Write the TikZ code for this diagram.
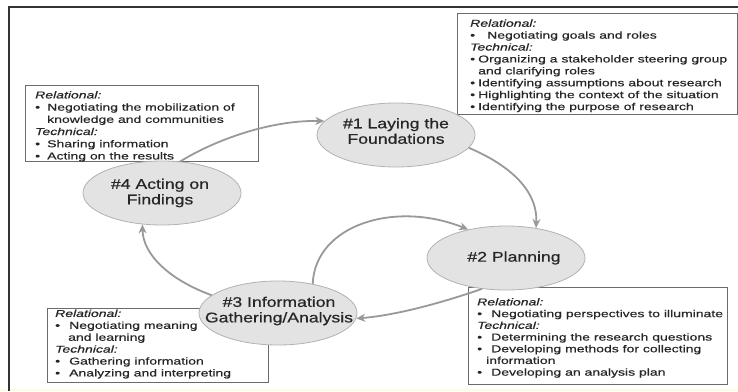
\documentclass[tikz,border=0pt]{standalone}
\usepackage{fontspec}
\setmainfont{Liberation Sans}[FakeStretch=1.4,FakeBold=0.4]
\newfontfamily\ellfont{Liberation Sans}[FakeStretch=1.26,FakeBold=0.6]
\usetikzlibrary{shapes.geometric,arrows.meta}
\definecolor{txt}{gray}{0.15}
\definecolor{ellfill}{gray}{0.89}
\definecolor{ellline}{gray}{0.70}
\definecolor{arrcol}{gray}{0.60}
\definecolor{boxline}{gray}{0.42}
\definecolor{frameline}{gray}{0.20}
\newcommand{\bA}{\makebox[8pt][l]{•}}
\newcommand{\bB}{\makebox[12pt][l]{•}}
\newcommand{\bC}{\makebox[14pt][l]{•}}
\tikzset{
  infobox/.style={draw=boxline, line width=0.6pt, fill=white, inner sep=0pt, anchor=north west},
  infotext/.style={text=txt, align=left, inner sep=0pt, anchor=north west},
  ell/.style={ellipse, draw=ellline, line width=0.8pt, fill=ellfill, inner sep=0pt,
              minimum width=158pt, minimum height=64pt},
  elltext/.style={text=txt, align=center, inner sep=0pt, font=\ellfont\fontsize{14}{15.5}\selectfont},
  arr/.style={draw=arrcol, line width=1.8pt, -{Stealth[length=9pt,width=8pt]}}
}
\begin{document}
\begin{tikzpicture}[x=1pt,y=-1pt]
\useasboundingbox (0,0) rectangle (738,391);
\fill[white] (0,0) rectangle (738,391);
\fill[yellow!15] (0,388.5) rectangle (738,391);
\draw[frameline, line width=2pt] (9,391) -- (9,7) -- (738,7);

% boxes
\node[infobox, minimum width=280pt, minimum height=101pt] (b1) at (457,13) {};
\node[infotext, font=\fontsize{10}{11.9}\selectfont] (t1) at (470,19.3) {%
\textit{Relational:}\\
\makebox[17pt][l]{•}Negotiating goals and roles\\
\textit{Technical:}\\
\bA Organizing a stakeholder steering group\\
\hspace*{8pt}and clarifying roles\\
\bA Identifying assumptions about research\\
\bA Highlighting the context of the situation\\
\bA Identifying the purpose of research};

\node[infobox, minimum width=233pt, minimum height=76pt] (b4) at (25,85) {};
\node[infotext, font=\fontsize{10}{12.2}\selectfont] (t4) at (35,91) {%
\textit{Relational:}\\
\bB Negotiating the mobilization of\\
\hspace*{12pt}knowledge and communities\\
\textit{Technical:}\\
\bB Sharing information\\
\bB Acting on the results};

\node[infobox, minimum width=221pt, minimum height=74pt] (b3) at (47,308) {};
\node[infotext, font=\fontsize{10}{11.9}\selectfont] (t3) at (55,309.5) {%
\textit{Relational:}\\
\bC Negotiating meaning\\
\hspace*{13pt}and learning\\
\textit{Technical:}\\
\bC Gathering information\\
\bC Analyzing and interpreting};

\node[infobox, minimum width=259pt, minimum height=97pt] (b2) at (468,287) {};
\node[infotext, font=\fontsize{10}{11.7}\selectfont] (t2) at (477,298) {%
\textit{Relational:}\\
\bC Negotiating perspectives to illuminate\\
\textit{Technical:}\\
\bC Determining the research questions\\
\bC Developing methods for collecting\\
\hspace*{9pt}information\\
\bC Developing an analysis plan};

% ellipses
\node[ell] (e1) at (396,135) {};
\node[elltext] (l1) at (396,131) {\#1 Laying the\\Foundations};
\node[ell] (e2) at (506,258) {};
\node[elltext] (l2) at (514,258) {\#2 Planning};
\node[ell] (e3) at (278,313) {};
\node[elltext] (l3) at (279,311) {\#3 Information\\Gathering/Analysis};
\node[ell] (e4) at (162,193) {};
\node[elltext] (l4) at (160,193) {\#4 Acting on\\Findings};

% arrows
\draw[arr] (e4.60) .. controls (215,140) and (270,120) .. (e1.169);
\draw[arr] (e1.-10) .. controls (505,163) and (538,188) .. (e2.45);
\draw[arr] (e2.-128) .. controls (450,300) and (400,315) .. (e3.-4);
\draw[arr] (e3.40) .. controls (315,225) and (395,200) .. (e2.143);
\draw[arr] (e3.165) .. controls (170,280) and (143,255) .. (e4.-122);
\end{tikzpicture}
\end{document}
